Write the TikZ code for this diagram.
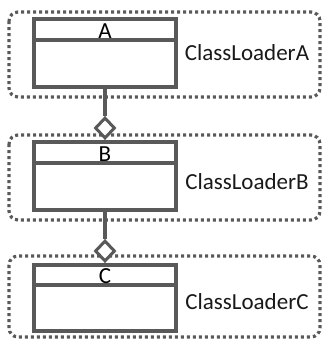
\documentclass[tikz,border=0pt]{standalone}
\usepackage{fontspec}
\setmainfont{Carlito}
\usetikzlibrary{shapes.geometric}
\definecolor{umlgray}{HTML}{595959}
\tikzset{
  loaderbox/.style={draw=umlgray, line width=3.2pt, dash pattern=on 3pt off 3pt, rounded corners=9pt},
  classbox/.style={draw=umlgray, line width=4pt, fill=white, minimum width=142pt, inner sep=0pt},
  divider/.style={draw=umlgray, line width=4pt},
  headtext/.style={font=\fontsize{23}{26}\selectfont, text=black, inner sep=0pt},
  loadertext/.style={font=\fontsize{23}{27}\selectfont, text=black!90, inner sep=0pt},
  diam/.style={diamond, draw=umlgray, line width=3pt, fill=white, minimum width=20pt, minimum height=21pt, inner sep=0pt},
  link/.style={draw=umlgray, line width=4pt}
}
\begin{document}
\begin{tikzpicture}[x=1pt,y=-1pt]
\useasboundingbox (0,0) rectangle (323,340);
% loader containers
\draw[loaderbox] (9,12) rectangle (320,97);
\draw[loaderbox] (9,135) rectangle (320,220);
\draw[loaderbox] (9,256) rectangle (320,337);
% classes
\node[classbox, minimum height=68pt] (A) at (105,53) {};
\draw[divider] ([yshift=-23pt]A.north west) -- ([yshift=-23pt]A.north east);
\node[headtext] (Alab) at (105,31) {A};
\node[classbox, minimum height=68pt] (B) at (105,176) {};
\draw[divider] ([yshift=-23pt]B.north west) -- ([yshift=-23pt]B.north east);
\node[headtext] (Blab) at (105,154) {B};
\node[classbox, minimum height=66pt] (C) at (105,298) {};
\draw[divider] ([yshift=-22pt]C.north west) -- ([yshift=-22pt]C.north east);
\node[headtext] (Clab) at (105,276.5) {C};
% loader labels
\node[loadertext] (LA) at (247,53) {ClassLoaderA};
\node[loadertext] (LB) at (247,182) {ClassLoaderB};
\node[loadertext] (LC) at (247,302) {ClassLoaderC};
% aggregation diamonds
\node[diam, anchor=south] (dB) at (B.north) {};
\node[diam, anchor=south] (dC) at (C.north) {};
\draw[link] (A.south) -- (dB.north);
\draw[link] (B.south) -- (dC.north);
\end{tikzpicture}
\end{document}
